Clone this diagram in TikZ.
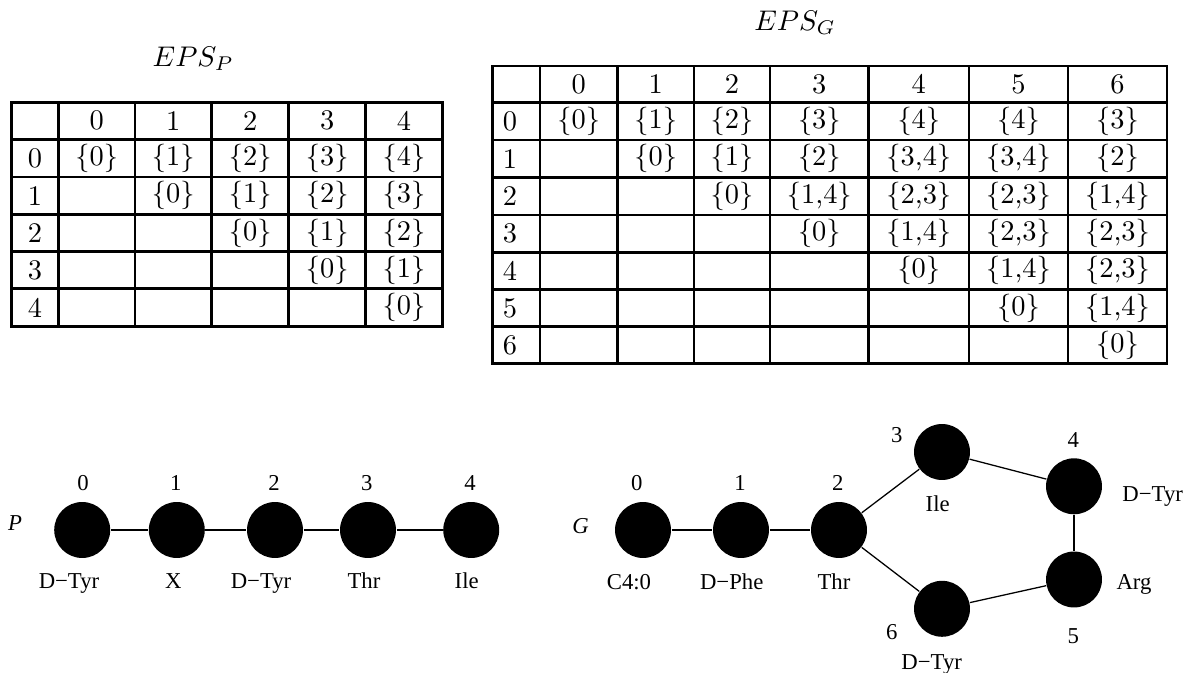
\documentclass[tikz,border=0pt]{standalone}
\usepackage{fontspec}
\newfontfamily\graphfont{Liberation Serif}
\begin{document}
\begin{tikzpicture}[x=0.352pt,y=-0.352pt,
  grid/.style={line width=0.95pt},
  cell/.style={inner sep=0pt, anchor=center},
  ttl/.style={inner sep=0pt, anchor=base},
  vtx/.style={circle, fill=black, draw=none, minimum size=19.7pt, inner sep=0pt},
  lbl/.style={font=\graphfont\fontsize{8}{9}\selectfont, inner sep=0pt, anchor=base},
  ilbl/.style={font=\graphfont\itshape\fontsize{8}{9}\selectfont, inner sep=0pt, anchor=base},
  edge/.style={line width=0.45pt}]
\useasboundingbox (0,0) rectangle (1188,673);

% ---------- Table EPS_P ----------
\node[ttl] (tp) at (193.3,66.7) {$EPS_P$};
\draw[grid] (11.7,102.3) rectangle (442.3,326.7);
\foreach \x in {58.3,135,211.7,288.7,365.7} \draw[grid] (\x,102.3) -- (\x,326.7);
\foreach \y in {139.3,177,214.3,251.7,288.7} \draw[grid] (11.7,\y) -- (442.3,\y);
\foreach \c/\x in {0/96.7,1/173.3,2/250.2,3/327.2,4/404}
  \node[cell] (ph\c) at (\x,120.8) {\c};
\foreach \r/\y in {0/158.2,1/195.7,2/233,3/270.2,4/307.7}
  \node[cell] (pr\r) at (35,\y) {\r};
\foreach \r in {0,...,4}{
  \foreach \c in {0,...,4}{
    \pgfmathtruncatemacro\d{\c-\r}
    \ifnum\d<0\relax\else
      \node[cell] (pe\r\c) at (ph\c |- pr\r) {\{\d\}};
    \fi
  }
}

% ---------- Table EPS_G ----------
\node[ttl] (tg) at (795,30.7) {$EPS_G$};
\draw[grid] (492.7,66) rectangle (1167,363.3);
\foreach \x in {540,617.3,694,770,868.7,969,1068} \draw[grid] (\x,66) -- (\x,363.3);
\foreach \y in {102.7,140,177.3,215,252.3,289.3,326.7} \draw[grid] (492.7,\y) -- (1167,\y);
\foreach \c/\x in {0/578.7,1/655.7,2/732,3/819.3,4/918.8,5/1018.5,6/1117.5}
  \node[cell] (gh\c) at (\x,84.3) {\c};
\foreach \r/\y in {0/121.3,1/158.7,2/196.2,3/233.7,4/270.8,5/308,6/345}
  \node[cell] (gr\r) at (510,\y) {\r};
\foreach \r/\c/\v in {0/0/0,0/1/1,0/2/2,0/3/3,0/4/4,0/5/4,0/6/3,
  1/1/0,1/2/1,1/3/2,1/4/{3,4},1/5/{3,4},1/6/2,
  2/2/0,2/3/{1,4},2/4/{2,3},2/5/{2,3},2/6/{1,4},
  3/3/0,3/4/{1,4},3/5/{2,3},3/6/{2,3},
  4/4/0,4/5/{1,4},4/6/{2,3},
  5/5/0,5/6/{1,4},
  6/6/0}
  \node[cell] (ge\r\c) at (gh\c |- gr\r) {\{\v\}};

% ---------- Graph P ----------
\node[ilbl] (pname) at (15,530.5) {P};
\foreach \i/\x in {0/82.2,1/176.8,2/275,3/368,4/471.2}
  \node[vtx] (p\i) at (\x,530) {};
\foreach \i/\x in {0/83,1/175.7,2/274,3/366.7,4/470}
  \node[lbl] (pn\i) at (\x,490.7) {\i};
\node[lbl] (pa0) at (69,588.5) {D−Tyr};
\node[lbl] (pa1) at (173.3,588.5) {X};
\node[lbl] (pa2) at (261,588.5) {D−Tyr};
\node[lbl] (pa3) at (364,588.5) {Thr};
\node[lbl] (pa4) at (466.7,588.5) {Ile};
\draw[edge] (p0) -- (p1);
\draw[edge] (p1) -- (p2);
\draw[edge] (p2) -- (p3);
\draw[edge] (p3) -- (p4);

% ---------- Graph G ----------
\node[ilbl] (gname) at (580.7,534) {G};
\node[vtx] (g0) at (643,530) {};
\node[vtx] (g1) at (741,530) {};
\node[vtx] (g2) at (839,530) {};
\node[vtx] (g3) at (942,452) {};
\node[vtx] (g4) at (1074,486.3) {};
\node[vtx] (g5) at (1074,579.5) {};
\node[vtx] (g6) at (942,608.8) {};
\node[lbl] (gn0) at (636.7,490.7) {0};
\node[lbl] (gn1) at (740,490.7) {1};
\node[lbl] (gn2) at (837.7,490.7) {2};
\node[lbl] (gn3) at (896.7,442.7) {3};
\node[lbl] (gn4) at (1073.3,447.3) {4};
\node[lbl] (gn5) at (1073.3,643.3) {5};
\node[lbl] (gn6) at (891.7,639.3) {6};
\node[lbl] (ga0) at (629,590) {C4:0};
\node[lbl] (ga1) at (731.7,590) {D−Phe};
\node[lbl] (ga2) at (834,590) {Thr};
\node[lbl] (ga3) at (937.7,511.7) {Ile};
\node[lbl] (ga4) at (1152.7,501.7) {D−Tyr};
\node[lbl] (ga5) at (1134,590) {Arg};
\node[lbl] (ga6) at (931.7,669.3) {D−Tyr};
\draw[edge] (g0) -- (g1);
\draw[edge] (g1) -- (g2);
\draw[edge] (g2) -- (g3);
\draw[edge] (g3) -- (g4);
\draw[edge] (g4) -- (g5);
\draw[edge] (g5) -- (g6);
\draw[edge] (g6) -- (g2);
\end{tikzpicture}
\end{document}
